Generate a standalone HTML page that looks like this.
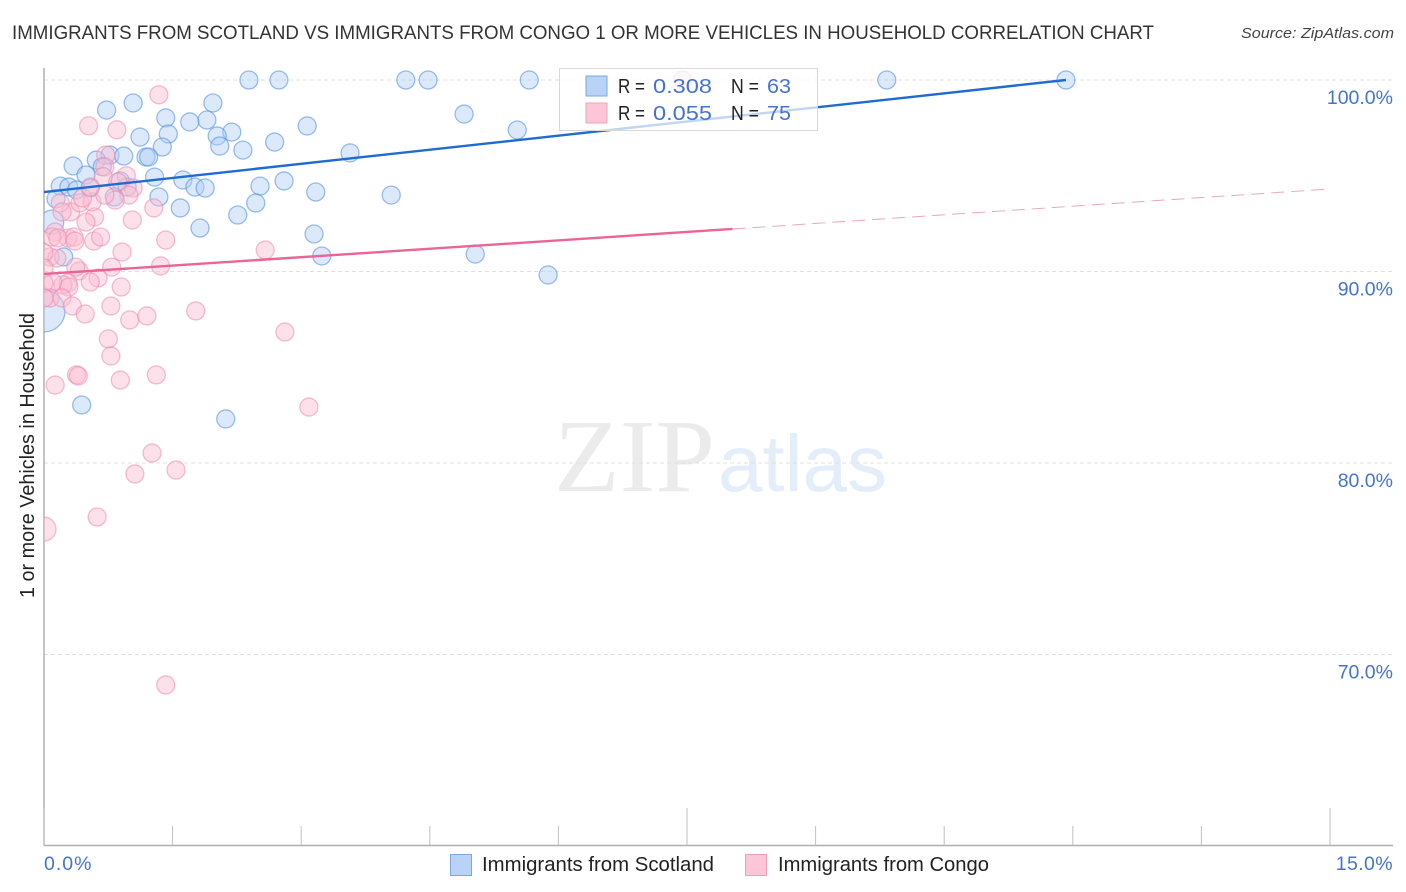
<!DOCTYPE html>
<html lang="en">
<head>
<meta charset="utf-8">
<title>Immigrants from Scotland vs Immigrants from Congo Correlation Chart</title>
<style>
html,body{margin:0;padding:0;background:#fff;width:1406px;height:892px;overflow:hidden}
svg{display:block;font-family:"Liberation Sans",sans-serif}
</style>
</head>
<body>
<svg id="chart" xmlns="http://www.w3.org/2000/svg" width="1406" height="892" viewBox="0 0 1406 892">
  <defs><clipPath id="plot-clip"><rect x="44" y="60" width="1350" height="785"/></clipPath></defs>
  <text x="12" y="39" font-size="19" fill="#333" textLength="1142" lengthAdjust="spacingAndGlyphs">IMMIGRANTS FROM SCOTLAND VS IMMIGRANTS FROM CONGO 1 OR MORE VEHICLES IN HOUSEHOLD CORRELATION CHART</text>
  <text x="1241" y="38" font-size="15" font-style="italic" fill="#444" textLength="153" lengthAdjust="spacingAndGlyphs">Source: ZipAtlas.com</text>
  <g>
    <text x="554" y="491" font-family="'Liberation Serif',serif" font-size="104" fill="#ebebeb" textLength="161" lengthAdjust="spacingAndGlyphs">ZIP</text>
    <text x="718" y="491" font-size="80" fill="#e4edfa" textLength="169" lengthAdjust="spacingAndGlyphs">atlas</text>
  </g>
  <g id="grid"></g>
  <g id="axes"></g>
  <g clip-path="url(#plot-clip)">
    <g id="points-scotland"></g>
    <g id="points-congo"></g>
    <g id="trends"></g>
  </g>
  <text transform="translate(34,598) rotate(-90)" font-size="20" fill="#222" textLength="285" lengthAdjust="spacingAndGlyphs">1 or more Vehicles in Household</text>
  <g>
    <rect x="559.5" y="68.5" width="258" height="62" fill="#fff" fill-opacity="0.72" stroke="#d9d9d9" stroke-width="1"/>
    <rect x="586" y="76" width="21" height="20" fill="#b9d3f6" stroke="#7da7e0" stroke-width="1"/>
    <rect x="586" y="103" width="21" height="20" fill="#fcc6d8" stroke="#f0a0bb" stroke-width="1"/>
    <text x="618" y="93" font-size="20" fill="#222" textLength="27" lengthAdjust="spacingAndGlyphs">R =</text>
    <text x="653" y="93" font-size="20.5" fill="#4574cf" textLength="59" lengthAdjust="spacingAndGlyphs">0.308</text>
    <text x="731" y="93" font-size="20" fill="#222" textLength="28" lengthAdjust="spacingAndGlyphs">N =</text>
    <text x="767" y="93" font-size="20.5" fill="#4574cf" textLength="24" lengthAdjust="spacingAndGlyphs">63</text>
    <text x="618" y="120" font-size="20" fill="#222" textLength="27" lengthAdjust="spacingAndGlyphs">R =</text>
    <text x="653" y="120" font-size="20.5" fill="#4574cf" textLength="59" lengthAdjust="spacingAndGlyphs">0.055</text>
    <text x="731" y="120" font-size="20" fill="#222" textLength="28" lengthAdjust="spacingAndGlyphs">N =</text>
    <text x="767" y="120" font-size="20.5" fill="#4574cf" textLength="24" lengthAdjust="spacingAndGlyphs">75</text>
  </g>
  <g>
    <rect x="450.5" y="854.5" width="21" height="21" fill="#b9d3f6" stroke="#7da7e0" stroke-width="1"/>
    <text x="482" y="871" font-size="20" fill="#222" textLength="232" lengthAdjust="spacingAndGlyphs">Immigrants from Scotland</text>
    <rect x="745.5" y="854.5" width="21" height="21" fill="#fcc6d8" stroke="#f0a0bb" stroke-width="1"/>
    <text x="778" y="871" font-size="20" fill="#222" textLength="211" lengthAdjust="spacingAndGlyphs">Immigrants from Congo</text>
  </g>
</svg>
<script>
// Chart data (x = share in %, y = 1 or more vehicles in %)
const scotlandX = [2.39,2.74,4.22,4.48,5.66,9.83,11.92,1.04,1.97,0.73,4.90,1.42,1.90,1.70,3.07,5.52,2.19,1.12,1.45,2.02,2.69,2.05,1.38,2.32,3.57,0.77,0.93,1.19,1.22,0.61,0.34,0.49,1.29,1.62,2.80,0.89,0.97,1.76,1.88,2.52,0.19,0.29,0.38,0.54,3.17,4.05,0.82,1.34,0.14,2.47,1.59,2.26,1.82,3.15,3.24,5.03,0.23,5.88,0.44,2.12,0.68];
const scotlandY = [100,100,100,100,100,100,100,98.8,98.8,98.43,98.22,98.02,97.91,97.81,97.6,97.39,97.28,97.02,97.18,97.08,96.76,96.55,96.5,96.34,96.19,96.08,96.03,95.98,95.98,95.82,95.51,95.04,94.93,94.78,94.73,94.73,94.41,94.41,94.36,94.46,94.46,94.41,94.26,94.36,94.15,93.99,93.89,93.89,93.79,93.58,93.32,92.95,92.27,91.96,90.81,90.91,90.76,89.82,83.03,82.3,95.47];
const scotlandLargeX = [0,0.09];
const scotlandLargeY = [87.94,92.58];
const scotlandLargeWeight = [441,144];
const congoX = [1.34,0.52,0.85,7.45,0.72,0.71,0.96,0.69,1.04,0.99,0.83,1.28,1.03,0.59,0.49,0.31,0.42,0.56,0.45,0.19,0.21,0.13,0.28,0.35,0.36,0.58,0.66,1.42,0.91,2.58,0.79,1.36,0.07,0.15,0.41,0.37,0.63,0.54,0.28,0.22,0.29,0.10,0.90,0.07,0.21,0.33,0.78,0.48,1.00,1.20,1.77,0.75,0.78,0.89,1.31,0.38,0.40,0.13,2.81,3.09,1.26,1.06,1.54,0.62,1.42,0,0,0,0.09,0.86,0.54,0.71,0,0.16];
const congoY = [99.23,97.61,97.4,100,96.08,95.46,95.0,94.95,94.36,93.99,93.73,93.32,92.69,92.85,92.58,93.11,93.58,93.63,93.84,93.58,93.11,92.06,91.75,91.8,91.59,91.59,91.8,91.64,91.02,91.12,90.23,90.29,90.76,90.7,90.03,90.23,89.66,89.45,89.4,89.3,89.19,89.45,89.19,88.62,88.62,88.2,88.2,87.78,87.47,87.68,87.94,86.48,85.59,84.33,84.6,84.6,84.55,84.07,86.84,82.92,80.52,79.43,79.63,77.18,68.41,90.97,90.18,89.4,91.8,94.67,94.41,93.99,88.62,91.75];
const congoLargeX = [0];
const congoLargeY = [76.55];
const congoLargeWeight = [144];
const scotlandTrendX = [0,11.92];
const scotlandTrendY = [94.15,100];
const congoSolidTrendX = [0,8.03];
const congoSolidTrendY = [89.87,92.22];
const congoDashTrendX = [8.03,15];
const congoDashTrendY = [92.22,94.31];
const yTickValues = [100,90,80,70];
const yTickLabels = ["100.0%","90.0%","80.0%","70.0%"];
const xTickValues = [0,1.5,3,4.5,6,7.5,9,10.5,12,13.5,15];
const xMajorTicks = [0,7.5,15];
const xEndValues = [0,15];
const xEndLabels = ["0.0%","15.0%"];
const defaultWeight = 81;

// Axis functions
function xScale(v){ return 44 + v * (1286 / 15); }
function yScale(v){ return 80 + (100 - v) * 19.15; }
function rScale(w){ return Math.sqrt(w); }

const NS = "http://www.w3.org/2000/svg";
function make(tag, parent, attrs){
  const el = document.createElementNS(NS, tag);
  for (const k in attrs) el.setAttribute(k, attrs[k]);
  parent.appendChild(el);
  return el;
}
const grid = document.getElementById("grid");
const axes = document.getElementById("axes");
const ptsS = document.getElementById("points-scotland");
const ptsC = document.getElementById("points-congo");
const trends = document.getElementById("trends");

yTickValues.forEach(function(v, i){
  const line = make("line", grid, {x1:44, x2:1393, y1:yScale(v), y2:yScale(v), stroke:"#e0e0e0", "stroke-width":1, "stroke-dasharray":"4 3"});
  
  
  const label = make("text", axes, {x:1393, y:yScale(v)+24, "text-anchor":"end", "font-size":19.5, fill:"#4574cf"});
  
  
  label.textContent = yTickLabels[i];
});

const yAxis = make("line", axes, {x1:44, x2:44, y1:68, y2:845.5, stroke:"#b0b0b0", "stroke-width":1.5});


const xAxis = make("line", axes, {x1:44, x2:1393, y1:845.5, y2:845.5, stroke:"#b0b0b0", "stroke-width":1.5});



xTickValues.forEach(function(v){
  const isMajor = xMajorTicks.indexOf(v) >= 0;
  const tick = make("line", axes, {x1:xScale(v), x2:xScale(v), y1:845, y2:isMajor ? 808 : 826, stroke:"#c0c0c0", "stroke-width":1});
  
  
});
xEndValues.forEach(function(v, i){
  const label = make("text", axes, {x: i === 0 ? xScale(v) : 1393, y:870, "text-anchor": i === 0 ? "start" : "end", "font-size":19.5, fill:"#4574cf"});
  
  
  label.textContent = xEndLabels[i];
  label.style.letterSpacing = i === 0 ? "1px" : "0.4px";
});

function drawPoints(parent, xs, ys, weightAt, fill, stroke, name){
  xs.forEach(function(v, i){
    const c = make("circle", parent, {cx:xScale(v), cy:yScale(ys[i]), r:rScale(weightAt(i)), fill:fill, "fill-opacity":0.45, stroke:stroke, "stroke-opacity":0.55, "stroke-width":1.3});
    
    
  });
}
drawPoints(ptsS, scotlandLargeX, scotlandLargeY, function(i){ return scotlandLargeWeight[i]; }, "#b0cff6", "#4a8ade", "scotland-point-large");
drawPoints(ptsS, scotlandX, scotlandY, function(){ return defaultWeight; }, "#b0cff6", "#4a8ade", "scotland-point");
drawPoints(ptsC, congoLargeX, congoLargeY, function(i){ return congoLargeWeight[i]; }, "#fbbdd0", "#ee86aa", "congo-point-large");
drawPoints(ptsC, congoX, congoY, function(){ return defaultWeight; }, "#fbbdd0", "#ee86aa", "congo-point");

const t1 = make("line", trends, {x1:xScale(scotlandTrendX[0]), y1:yScale(scotlandTrendY[0]), x2:xScale(scotlandTrendX[1]), y2:yScale(scotlandTrendY[1]), stroke:"#1f6bd4", "stroke-width":2.4});


const t2 = make("line", trends, {x1:xScale(congoSolidTrendX[0]), y1:yScale(congoSolidTrendY[0]), x2:xScale(congoSolidTrendX[1]), y2:yScale(congoSolidTrendY[1]), stroke:"#ea6597", "stroke-width":2.4});


const t3 = make("line", trends, {x1:xScale(congoDashTrendX[0]), y1:yScale(congoDashTrendY[0]), x2:xScale(congoDashTrendX[1]), y2:yScale(congoDashTrendY[1]), stroke:"#e9a8bf", "stroke-width":1, "stroke-dasharray":"13 7"});


</script>
</body>
</html>
